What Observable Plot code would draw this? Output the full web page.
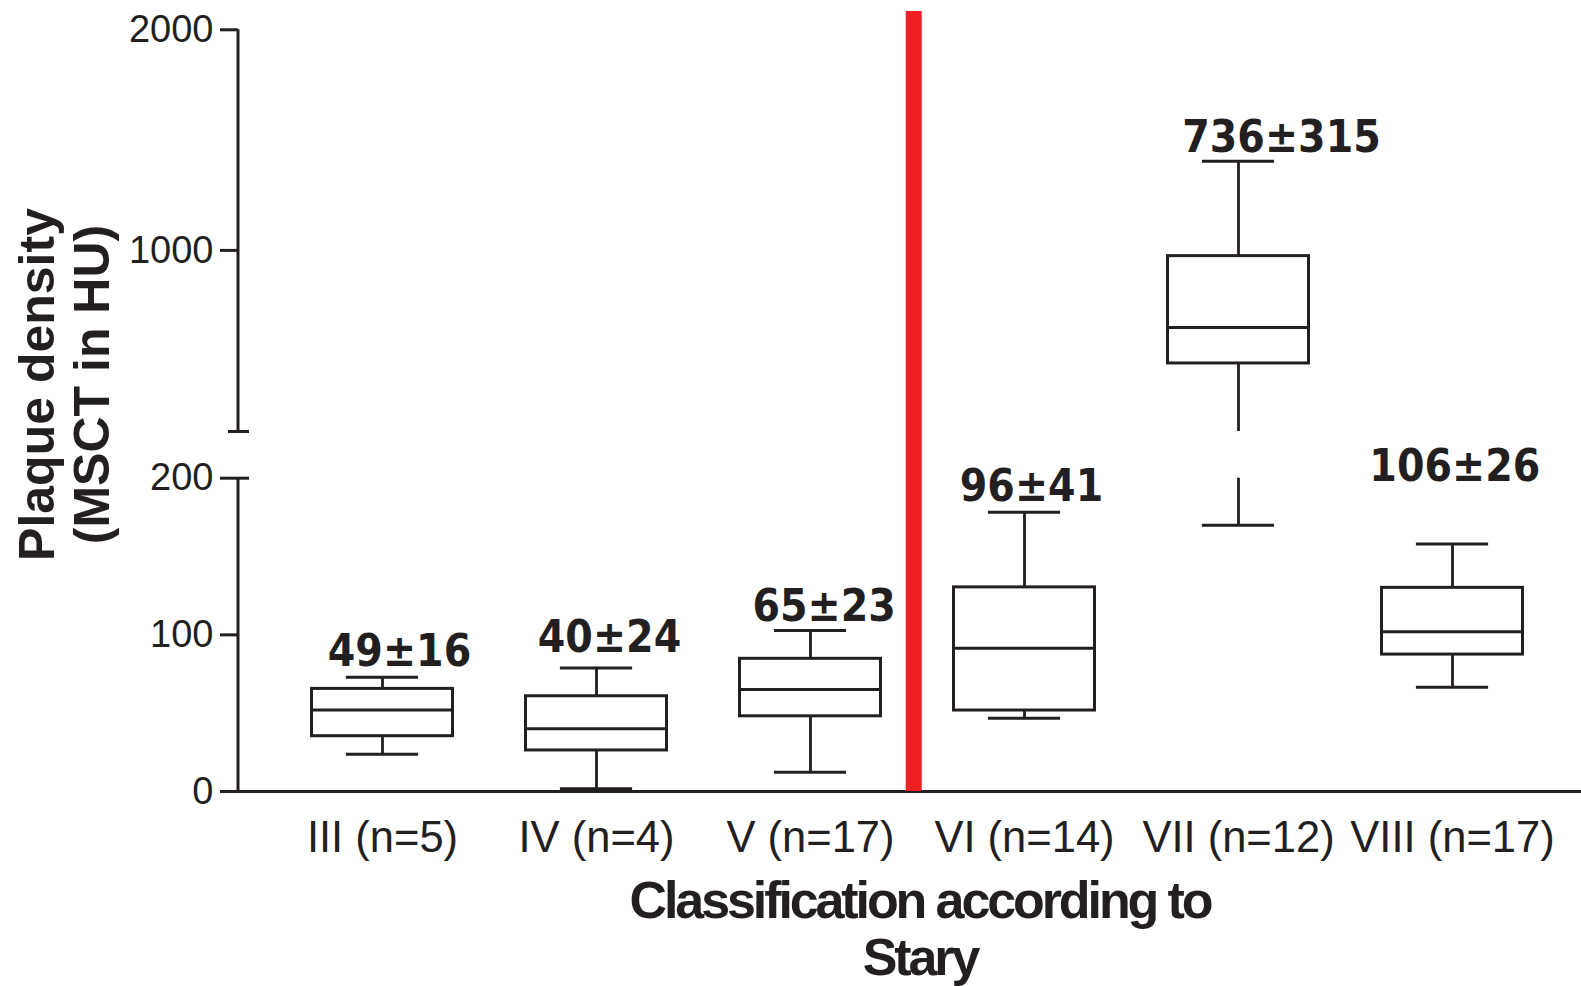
<!DOCTYPE html>
<html>
<head>
<meta charset="utf-8">
<script src="https://cdn.jsdelivr.net/npm/d3@7"></script>
<script src="https://cdn.jsdelivr.net/npm/@observablehq/plot@0.6"></script>
<style>
  html, body { margin: 0; padding: 0; background: #ffffff; }
  #chart { width: 1581px; height: 986px; }
</style>
</head>
<body>
<div id="chart"></div>
<script>
// ---------------- data ----------------
const categories  = ["III (n=5)", "IV (n=4)", "V (n=17)", "VI (n=14)", "VII (n=12)", "VIII (n=17)"];
const whiskerLow  = [23.8, 1.7, 12.3, 46.8, 170, 66.5];
const q1          = [35.3, 26.2, 48.0, 51.7, 487.5, 87.4];
const median      = [52.1, 40.0, 65.1, 91.4, 651, 101.9];
const q3          = [65.5, 60.8, 84.7, 130.3, 974, 130.0];
const whiskerHigh = [72.9, 78.9, 102.7, 178.2, 1403.6, 158.0];
const meanSd      = ["49±16", "40±24", "65±23", "96±41", "736±315", "106±26"];
const labelAt     = [80.4, 88.9, 108.6, 185.2, 1444, 198];   // HU value at the label baseline
const yTicks      = [0, 100, 200, 1000, 2000];
const dividerAfter = "V (n=17)";

// ---------------- broken y axis (two linear segments) ----------------
const LOW_TOP = 200;       // top of the lower segment
const UP_BOTTOM = 179.1;   // bottom of the upper segment (break)
const lowU = d3.scaleLinear([0, LOW_TOP], [0, 313.3]);
const upU  = d3.scaleLinear([UP_BOTTOM, 2000], [360, 761.7]);
const u = v => (v <= LOW_TOP ? lowU(v) : upU(v));
function pieces(a, b) {
  const out = [];
  if (a < LOW_TOP) out.push([lowU(a), lowU(Math.min(b, LOW_TOP))]);
  if (b > LOW_TOP) out.push([upU(Math.max(a, UP_BOTTOM)), upU(b)]);
  return out;
}

const rows = categories.map((c, i) => ({
  cat: c, lo: whiskerLow[i], q1: q1[i], med: median[i], q3: q3[i], hi: whiskerHigh[i],
  label: meanSd[i], labelAt: labelAt[i]
}));
const whiskers = rows.flatMap(r =>
  [...pieces(r.q3, r.hi), ...pieces(r.lo, r.q1)].map(([a, b]) => ({cat: r.cat, a, b}))
);
const axisSegments = [[lowU(0), lowU(LOW_TOP)], [upU(UP_BOTTOM), upU(2000)]];
const tickLabel = new Map(yTicks.map(t => [u(t), String(t)]));

// ---------------- layout / style ----------------
const W = 1581, H = 986, ML = 238, MR = 0, MT = 11, MB = 195;
const FRAME_W = W - ML - MR;
const INK = "#231f20";
const RED = "#ed2024";
const BAND = (1560.5 - 273.1) / categories.length;
const BOX_INSET = 36.5;
const CAP_INSET = 70.9;
const labelDx = [17, 13, 13.6, 7, 43, 2.3];
const dividerIndex = categories.indexOf(dividerAfter) + 1;

const labelMarks = rows.map((r, i) =>
  Plot.text([r], {
    x: "cat", y: d => u(d.labelAt), text: "label",
    dx: labelDx[i], lineAnchor: "bottom", textAnchor: "middle",
    fontFamily: "'DejaVu Sans Condensed', 'DejaVu Sans', sans-serif",
    fontWeight: "bold", fontSize: 44, fill: INK
  })
);

const chart = Plot.plot({
  width: W, height: H,
  marginLeft: ML, marginRight: MR, marginTop: MT, marginBottom: MB,
  style: {background: "#ffffff", color: INK, fontFamily: "'Liberation Sans', Arial, sans-serif"},
  x: {type: "band", domain: categories, range: [273.1, 1560.5], padding: 0},
  y: {type: "linear", domain: [0, 780]},
  marks: [
    // x axis line
    Plot.ruleY([0], {stroke: INK, strokeWidth: 3, insetLeft: -16}),
    // y axis line, in two segments, along the frame's left edge
    Plot.rect(axisSegments, {
      y1: d => d[0], y2: d => d[1], fill: INK,
      insetLeft: -1.5, insetRight: FRAME_W - 1.5
    }),
    // labelled ticks
    Plot.axisY({
      ticks: yTicks.map(u), tickFormat: d => tickLabel.get(d),
      tickSize: 18, tickPadding: 7, fontSize: 38, strokeWidth: 3, label: null
    }),
    // right-hand stubs of the break marks
    Plot.ruleY([lowU(LOW_TOP)], {stroke: INK, strokeWidth: 3, insetRight: FRAME_W - 11}),
    Plot.ruleY([upU(UP_BOTTOM)], {stroke: INK, strokeWidth: 3, insetLeft: -10, insetRight: FRAME_W - 11}),
    // category axis
    Plot.axisX({tickSize: 0, tickPadding: 30, fontSize: 43.5, label: null}),
    // red divider
    Plot.ruleX([categories[dividerIndex]], {
      x: d => d, y1: 0, y2: 782, stroke: RED, strokeWidth: 16,
      dx: -BAND / 2 - 3.5, insetBottom: -2
    }),
    // whiskers
    Plot.ruleX(whiskers, {x: "cat", y1: "a", y2: "b", stroke: INK, strokeWidth: 2.8}),
    Plot.tickY(rows, {x: "cat", y: d => u(d.hi), stroke: INK, strokeWidth: 3, insetLeft: CAP_INSET, insetRight: CAP_INSET}),
    Plot.tickY(rows, {x: "cat", y: d => u(d.lo), stroke: INK, strokeWidth: 3, insetLeft: CAP_INSET, insetRight: CAP_INSET}),
    // boxes
    Plot.barY(rows, {
      x: "cat", y1: d => u(d.q1), y2: d => u(d.q3),
      fill: "#ffffff", stroke: INK, strokeWidth: 3, insetLeft: BOX_INSET, insetRight: BOX_INSET
    }),
    Plot.tickY(rows, {x: "cat", y: d => u(d.med), stroke: INK, strokeWidth: 3, insetLeft: BOX_INSET, insetRight: BOX_INSET}),
    // mean ± SD labels
    ...labelMarks,
    // axis titles
    Plot.text(["Plaque density\n(MSCT in HU)"], {
      frameAnchor: "left", rotate: -90, lineAnchor: "top", textAnchor: "middle", lineHeight: 1.1,
      dx: -223.3, dy: -17, fontSize: 50, fontWeight: "bold", fill: INK
    }),
    Plot.text(["Classification according to\nStary"], {
      frameAnchor: "bottom", lineAnchor: "top", textAnchor: "middle", lineHeight: 1.1,
      dx: 10, dy: 85.4, fontSize: 52, fontWeight: "bold", fill: INK
    })
  ]
});

d3.select(chart).selectAll("text")
  .filter(function () { return this.textContent.startsWith("Classification"); })
  .attr("letter-spacing", "-3.1px");
document.getElementById("chart").appendChild(chart);
</script>
</body>
</html>
